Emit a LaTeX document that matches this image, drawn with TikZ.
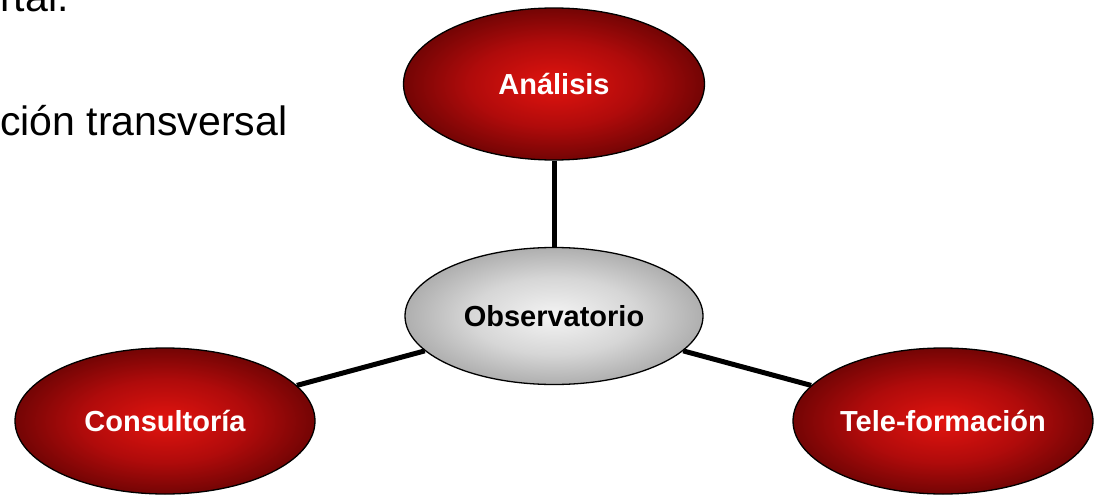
\documentclass[tikz,border=0pt]{standalone}
\usepackage{fontspec}
\setmainfont{Liberation Sans}
\usetikzlibrary{shapes.geometric}
\definecolor{redA}{HTML}{E2140F}
\definecolor{redB}{HTML}{B00B0B}
\definecolor{redC}{HTML}{6E0404}
\definecolor{grayA}{HTML}{F4F4F4}
\definecolor{grayB}{HTML}{D6D6D6}
\definecolor{grayC}{HTML}{ABABAB}
\pgfdeclareradialshading{redglow}{\pgfpoint{0bp}{0bp}}{color(0bp)=(redA); color(14bp)=(redB); color(26bp)=(redC); color(50bp)=(redC)}
\pgfdeclareradialshading{grayglow}{\pgfpoint{0bp}{0bp}}{color(0bp)=(grayA); color(14bp)=(grayB); color(26bp)=(grayC); color(50bp)=(grayC)}
\tikzset{
  bubble/.style={ellipse, draw=black, line width=1.3pt, inner sep=0pt,
    font=\fontsize{29}{34}\selectfont\bfseries},
  redbubble/.style={bubble, shading=redglow, text=white},
  graybubble/.style={bubble, shading=grayglow, text=black},
  link/.style={line width=5pt, draw=black},
  bodytext/.style={inner sep=0pt, anchor=base west, font=\fontsize{41}{48}\selectfont}
}
\begin{document}
\begin{tikzpicture}[x=1pt,y=-1pt]
\useasboundingbox (0,0) rectangle (1095,495);
\node[bodytext] (t1) at (0,12) {rtal.};
\node[bodytext] (t2) at (0,135) {ción transversal};
\node[redbubble, minimum width=301pt, minimum height=152pt] (ana) at (554,84) {Análisis};
\node[graybubble, minimum width=298pt, minimum height=137pt] (obs) at (554,316) {Observatorio};
\node[redbubble, minimum width=300pt, minimum height=146pt] (con) at (165,421) {Consultoría};
\node[redbubble, minimum width=300pt, minimum height=146pt] (tel) at (943,421) {Tele-formación};
\draw[link] (ana) -- (obs);
\draw[link] (obs) -- (con);
\draw[link] (obs) -- (tel);
\end{tikzpicture}
\end{document}
